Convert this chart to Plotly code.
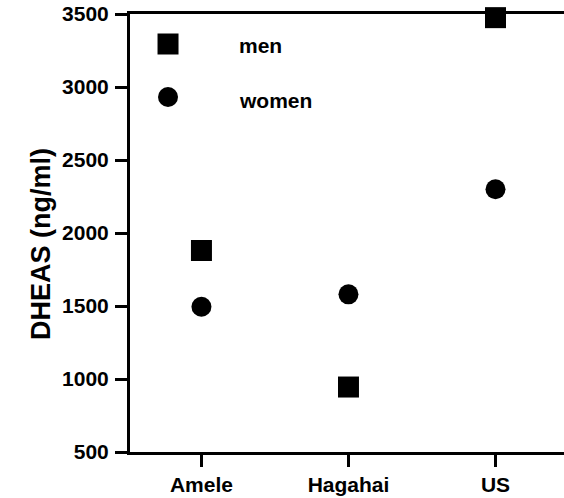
import plotly.graph_objects as go

# Serum DHEAS by population
groups = ["Amele", "Hagahai", "US"]
men = [1880, 945, 3475]
women = [1495, 1580, 2300]
y_ticks = [500, 1000, 1500, 2000, 2500, 3000, 3500]

FONT = "Liberation Sans"
INK = "black"


def bold(s):
    return f"<b>{s}</b>"


fig = go.Figure()

fig.add_trace(go.Scatter(
    x=groups, y=men, mode="markers", name="men",
    marker=dict(symbol="square", size=21, color=INK, line=dict(width=0)),
    cliponaxis=False, showlegend=False,
))
fig.add_trace(go.Scatter(
    x=groups, y=women, mode="markers", name="women",
    marker=dict(symbol="circle", size=20, color=INK, line=dict(width=0)),
    cliponaxis=False, showlegend=False,
))

# Key drawn on a hidden unit-square overlay so the symbols match the data marks
key_x = 0.0876
key_y = [0.9315, 0.8105]
fig.add_trace(go.Scatter(
    x=[key_x], y=[key_y[0]], xaxis="x2", yaxis="y2", mode="markers",
    marker=dict(symbol="square", size=21, color=INK), showlegend=False,
    hoverinfo="skip",
))
fig.add_trace(go.Scatter(
    x=[key_x], y=[key_y[1]], xaxis="x2", yaxis="y2", mode="markers",
    marker=dict(symbol="circle", size=20, color=INK), showlegend=False,
    hoverinfo="skip",
))

annotations = [
    dict(text=bold("men"), x=0.2465, y=key_y[0] - 0.004, xref="paper", yref="paper",
         xanchor="left", yanchor="middle", showarrow=False,
         font=dict(family=FONT, size=21, color=INK)),
    dict(text=bold("women"), x=0.2465, y=key_y[1] - 0.008, xref="paper", yref="paper",
         xanchor="left", yanchor="middle", showarrow=False,
         font=dict(family=FONT, size=21, color=INK)),
    dict(text=bold("DHEAS (ng/ml)"), x=-0.205, y=0.475, xref="paper", yref="paper",
         xanchor="center", yanchor="middle", textangle=-90, showarrow=False,
         font=dict(family=FONT, size=27, color=INK)),
]

fig.update_layout(
    width=564, height=498,
    margin=dict(l=130, r=0, t=14, b=46),
    paper_bgcolor="white", plot_bgcolor="white",
    showlegend=False,
    font=dict(family=FONT, color=INK),
    annotations=annotations,
    xaxis=dict(
        type="category", categoryorder="array", categoryarray=groups,
        range=[-0.486, 2.466],
        tickvals=groups, ticktext=[bold(g) for g in groups],
        showline=True, linecolor=INK, linewidth=3, mirror=True,
        ticks="outside", ticklen=12, tickwidth=2.5, tickcolor=INK,
        showgrid=False, zeroline=False,
        tickfont=dict(family=FONT, size=21, color=INK),
    ),
    yaxis=dict(
        range=[500, 3500], tickvals=y_ticks,
        ticktext=[bold(v) for v in y_ticks],
        showline=True, linecolor=INK, linewidth=3, mirror=False,
        ticks="outside", ticklen=12, tickwidth=2.5, tickcolor=INK,
        showgrid=False, zeroline=False, ticklabelstandoff=2,
        tickfont=dict(family=FONT, size=21, color=INK),
    ),
    xaxis2=dict(overlaying="x", range=[0, 1], visible=False, fixedrange=True),
    yaxis2=dict(overlaying="y", range=[0, 1], visible=False, fixedrange=True),
)

fig.write_html("out.html")
